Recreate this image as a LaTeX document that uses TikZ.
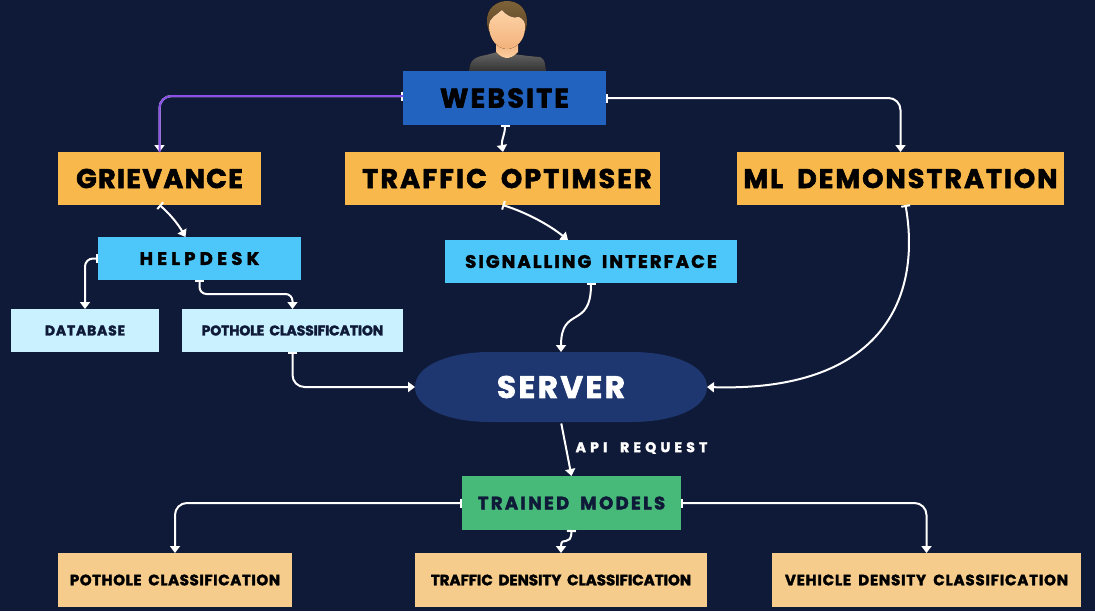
\documentclass[tikz,border=0pt]{standalone}
\usepackage{fontspec}
\setmainfont{Poppins}
\newfontfamily\fbase{Poppins}[UprightFont=* Bold,FakeBold=2.2,WordSpace=1.8]
\newcommand{\ftxt}[2]{\fbase\fontsize{#1}{#1}\selectfont\addfontfeature{LetterSpace=#2}}
\usetikzlibrary{arrows.meta,calc}
\definecolor{bg}{HTML}{0F1A38}
\definecolor{webc}{HTML}{2163BF}
\definecolor{orangec}{HTML}{F9B84B}
\definecolor{skyc}{HTML}{4DC6F9}
\definecolor{palec}{HTML}{C9F1FF}
\definecolor{servc}{HTML}{1F3771}
\definecolor{greenc}{HTML}{47B979}
\definecolor{sandc}{HTML}{F5CC8B}
\definecolor{purp}{HTML}{8A4FE8}
\definecolor{skinA}{HTML}{FDD3A6}
\definecolor{skinB}{HTML}{F3B27C}
\definecolor{hairA}{HTML}{7D6238}
\definecolor{hairB}{HTML}{5E4526}
\tikzset{
  x=1pt,y=-1pt,
  box/.style={inner sep=0,outer sep=0,anchor=center,align=center,text=black},
  top/.style={box,fill=orangec},
  mid/.style={box,fill=skyc},
  pale/.style={box,fill=palec,text=bg},
  sand/.style={box,fill=sandc},
  link/.style={white,line width=2pt,rounded corners=12pt,{Bar[width=9pt,length=2pt]}-{Triangle[width=10pt,length=7pt]}},
}
\begin{document}
\begin{tikzpicture}
\useasboundingbox (0,0) rectangle (1095,611);
\fill[bg] (0,0) rectangle (1095,611);
% person
\fill[top color=black!60,bottom color=black!80] (469,71) .. controls (470,60) and (474,57) .. (486,55) -- (497,52) -- (529,56) -- (540,57) .. controls (545,59) and (545,63) .. (546,71) -- cycle;
\fill[top color=skinB,bottom color=skinA] (496,42) -- (518,42) -- (518,52) .. controls (511,60) and (503,60) .. (496,52) -- cycle;
\fill[top color=hairA,bottom color=hairB] (487,22) .. controls (486,8) and (497,1) .. (507,1) .. controls (518,1) and (527,8) .. (527,22) .. controls (527,28) and (525,32) .. (523,34) -- (491,34) .. controls (489,32) and (487,28) .. (487,22) -- cycle;
\fill[top color=skinA,bottom color=skinB] (489,26) .. controls (489,17) and (497,15) .. (502,10) .. controls (506,15) and (512,19) .. (519,17) .. controls (523,19) and (526,22) .. (525,28) .. controls (525,40) and (516,49) .. (507,49) .. controls (498,49) and (489,40) .. (489,26) -- cycle;
% server outline
\fill[servc] (415,387) .. controls (415,365) and (450,352) .. (490,352) -- (632,352) .. controls (672,352) and (707,365) .. (707,387) .. controls (707,409) and (672,422) .. (632,422) -- (490,422) .. controls (450,422) and (415,409) .. (415,387) -- cycle;
% nodes
\node[box,fill=webc,minimum width=203pt,minimum height=54pt,font=\ftxt{27}{8}] (web) at (504.5,98) {WEBSITE};
\node[top,minimum width=203pt,minimum height=53pt,font=\ftxt{27}{5}] (griev) at (159.5,178.5) {GRIEVANCE};
\node[top,minimum width=315pt,minimum height=53pt,font=\ftxt{27}{8}] (traf) at (502.5,178.5) {\hspace*{9pt}TRAFFIC OPTIMSER};
\node[top,minimum width=327pt,minimum height=53pt,font=\ftxt{27}{7.5}] (ml) at (900.5,178.5) {ML DEMONSTRATION};
\node[mid,minimum width=203pt,minimum height=43pt,font=\ftxt{18}{24}] (help) at (199.5,258.5) {HELPDESK};
\node[mid,minimum width=292pt,minimum height=43pt,font=\ftxt{18}{12}] (sig) at (591,261.5) {SIGNALLING INTERFACE};
\node[pale,minimum width=148pt,minimum height=43pt,font=\ftxt{14}{5.5}] (db) at (85,330.5) {DATABASE};
\node[pale,minimum width=221pt,minimum height=43pt,font=\ftxt{14}{-1}] (pot) at (292.5,330.5) {POTHOLE CLASSIFICATION};
\node[box,text=white,minimum width=292pt,minimum height=70pt,font=\ftxt{31}{8}] (serv) at (561,387) {SERVER};
\node[box,fill=greenc,text=bg,minimum width=219pt,minimum height=54pt,font=\ftxt{18}{13}] (tm) at (571.5,503) {TRAINED MODELS};
\node[sand,minimum width=234pt,minimum height=54pt,font=\ftxt{15}{4}] (s1) at (175,580) {POTHOLE CLASSIFICATION};
\node[sand,minimum width=292pt,minimum height=54pt,font=\ftxt{15}{0}] (s2) at (561,580) {TRAFFIC DENSITY CLASSIFICATION};
\node[sand,minimum width=309pt,minimum height=54pt,font=\ftxt{15}{5.5}] (s3) at (926.5,580) {VEHICLE DENSITY CLASSIFICATION};
\node[inner sep=0,text=white,font=\ftxt{14}{30}] (api) at (641.5,448) {API REQUEST};
% connectors
\draw[link] ([yshift=2pt]web.west) -| (griev.north);
\draw[purp,line width=2pt,rounded corners=12pt] ([yshift=2pt]web.west) -| (griev.north);
\draw[link] (web.east) -| (ml.north);
\draw[link,rounded corners=0pt] ([xshift=0.5pt]web.south) .. controls +(0,10) and +(-2,-12) .. ([xshift=0.5pt]traf.north);
\draw[link,rounded corners=0pt] (griev.south) .. controls (170,214) and (178,224) .. ([xshift=26pt]griev.south |- help.north);
\draw[link,rounded corners=8pt] (help.west) -| (db.north);
\draw[link,rounded corners=7pt] (help.south) -- ++(0,14) -| (pot.north);
\draw[link] (pot.south) |- (serv.west);
\draw[link,rounded corners=0pt] (traf.south) .. controls (525,212) and (548,224) .. ([xshift=-23pt]sig.north);
\draw[link,rounded corners=0pt] (sig.south) .. controls (591,330) and (561,305) .. (serv.north);
\draw[link,rounded corners=0pt] ([xshift=5pt]ml.south) .. controls (922,300) and (880,392) .. (serv.east);
\draw[link,rounded corners=0pt,{Bar[width=0pt,length=0pt]}-{Triangle[width=10pt,length=7pt]}] (serv.south) -- (tm.north);
\draw[link] (tm.west) -| (s1.north);
\draw[link] (tm.east) -| (s3.north);
\draw[link,rounded corners=0pt] (tm.south) .. controls (571,548) and (561,535) .. (s2.north);
\end{tikzpicture}
\end{document}
